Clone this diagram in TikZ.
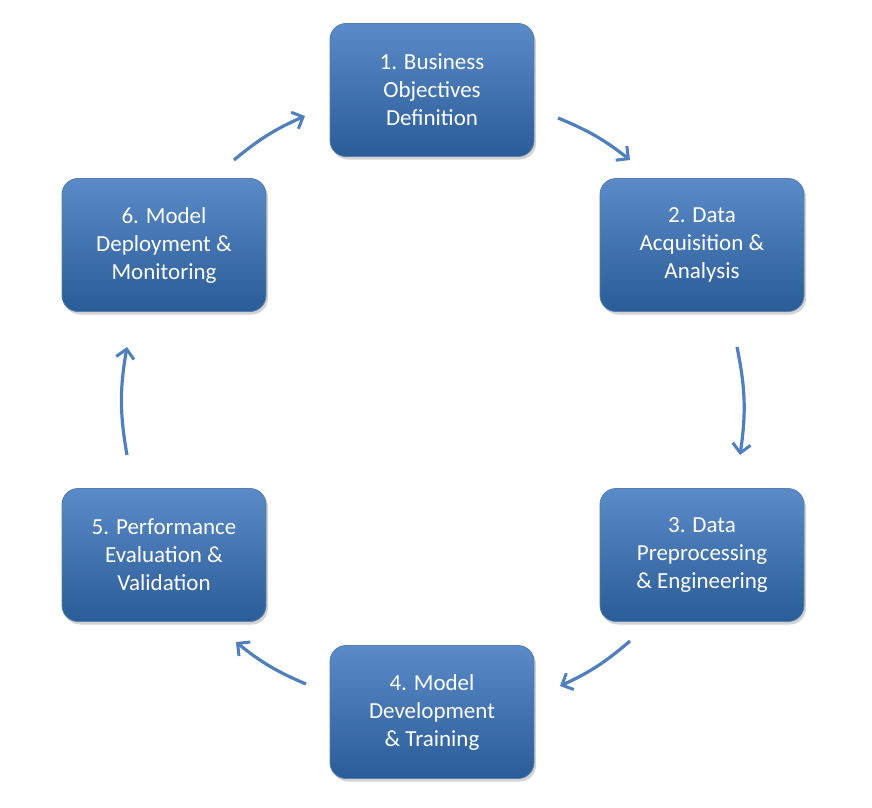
\documentclass[tikz,border=0pt]{standalone}
\usepackage{fontspec}
\setmainfont{Carlito}
\usetikzlibrary{arrows.meta,shadows,shapes.misc}
\definecolor{boxtop}{HTML}{5A8BC8}
\definecolor{boxbot}{HTML}{2A5C98}
\definecolor{arr}{HTML}{4F7FBC}
\tikzset{
 phase/.style={rounded corners=16pt,minimum width=204pt,minimum height=133pt,
   top color=boxtop,bottom color=boxbot,draw=boxbot!80!white,line width=0.8pt,
   text=white,font=\fontsize{23}{28}\selectfont,align=center,
   drop shadow={shadow xshift=2pt,shadow yshift=-3pt,opacity=0.35}},
 cyc/.style={draw=arr,line width=3.2pt,-{Straight Barb[length=9pt,width=18pt,line width=3pt]}}
}
\begin{document}
\begin{tikzpicture}[x=1pt,y=-1pt]
\useasboundingbox (0,0) rectangle (872,807);
\node[phase] (n1) at (432,90) {1. Business\\Objectives\\Definition};
\node[phase] (n2) at (702,245) {2. Data\\Acquisition \&\\Analysis};
\node[phase] (n3) at (702,555) {3. Data\\Preprocessing\\\& Engineering};
\node[phase] (n4) at (432,712) {4. Model\\Development\\\& Training};
\node[phase] (n5) at (164,555) {5. Performance\\Evaluation \&\\Validation};
\node[phase] (n6) at (164,245) {6. Model\\Deployment \&\\Monitoring};
\coordinate (a1) at (558,118); \coordinate (b1) at (630,160);
\coordinate (a2) at (737,347); \coordinate (b2) at (740,455);
\coordinate (a3) at (630,641); \coordinate (b3) at (560,686);
\coordinate (a4) at (306,684); \coordinate (b4) at (236,642);
\coordinate (a5) at (127,455); \coordinate (b5) at (127,347);
\coordinate (a6) at (234,160); \coordinate (b6) at (305,116);
\draw[cyc] (a1) to[bend left=8] (b1);
\draw[cyc] (a2) to[bend left=10] (b2);
\draw[cyc] (a3) to[bend left=8] (b3);
\draw[cyc] (a4) to[bend left=8] (b4);
\draw[cyc] (a5) to[bend left=10] (b5);
\draw[cyc] (a6) to[bend left=8] (b6);
\end{tikzpicture}
\end{document}
